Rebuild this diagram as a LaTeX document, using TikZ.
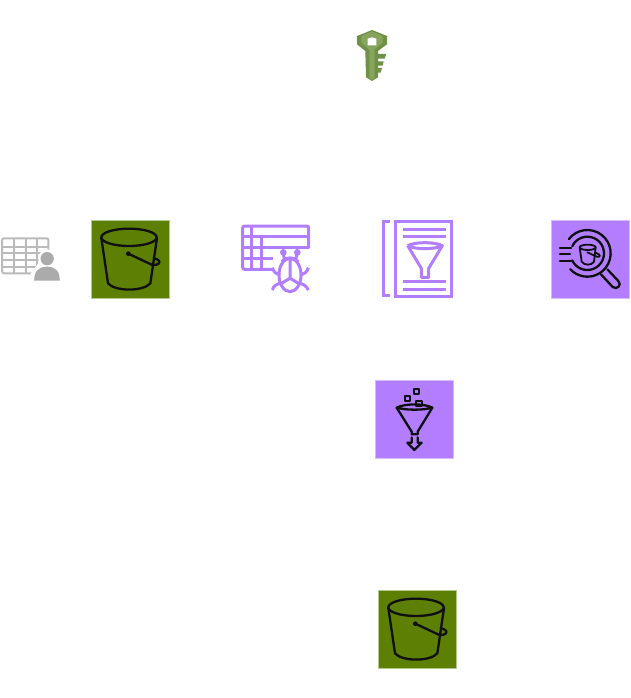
\documentclass[tikz,border=0pt]{standalone}
\usepackage{tikz}
\usetikzlibrary{positioning}

\definecolor{s3green}{HTML}{5C7F04}
\definecolor{s3edge}{HTML}{B3C88E}
\definecolor{labpurple}{HTML}{B27DFF}
\definecolor{labedge}{HTML}{D6BBFF}
\definecolor{inkblack}{HTML}{101010}
\definecolor{usergrey}{HTML}{ABABAB}
\definecolor{gridgrey}{HTML}{BABABA}
\definecolor{keygreen}{HTML}{6F9145}
\definecolor{keylight}{HTML}{86A45C}

\tikzset{
    tile/.style={minimum size=78pt, inner sep=0pt, outer sep=0pt, line width=0.8pt},
    s3tile/.style={tile, fill=s3green, draw=s3edge},
    labtile/.style={tile, fill=labpurple, draw=labedge},
    iconspot/.style={minimum size=60pt, inner sep=0pt, outer sep=0pt},
    ink/.style={draw=inkblack, line width=2.3pt, line join=round, line cap=round},
    lilac/.style={draw=labpurple, line width=3pt},
    s3bucket/.pic={
        \begin{scope}[scale=0.3333, shift={(-136.5,-133.5)}]
            \draw[ink] (132,67) ellipse [x radius=83, y radius=26];
            \draw[ink] (49,69) -- (69,205) .. controls (90,230) and (175,230) .. (196,205) -- (216,69);
            \fill[inkblack] (130,116) circle (7);
            \draw[ink] (130,116) -- (200,149) .. controls (222,153) and (230,140) .. (218,134) .. controls (214,131) and (210,130) .. (206,129);
        \end{scope}
    },
    searchglass/.pic={
        \begin{scope}[scale=0.3333, shift={(-135,-133.5)}]
            \draw[ink] (127,115) ++(218:70) arc [start angle=218, end angle=497, radius=70];
            \draw[ink] (127,115) ++(205:50) arc [start angle=205, end angle=515, radius=50];
            \draw[ink] (45,100) -- (78,100) (45,118) -- (75,118) (45,138) -- (78,138);
            \draw[ink] (168,178) -- (203,216) .. controls (215,226) and (232,210) .. (220,198) -- (187,163);
            \draw[ink, line width=1.8pt] (128,97) ellipse [x radius=24, y radius=8];
            \draw[ink, line width=1.8pt] (104,97) -- (110,140) .. controls (118,152) and (140,152) .. (147,140) -- (152,97);
            \draw[ink, line width=1.8pt] (127,112) -- (155,125) .. controls (168,128) and (168,118) .. (153,114);
        \end{scope}
    },
    funnelcubes/.pic={
        \begin{scope}[scale=0.3333, shift={(-133.5,-133.5)}]
            \draw[ink] (80,98) .. controls (105,85) and (162,85) .. (187,98) .. controls (162,106) and (105,106) .. (80,98);
            \draw[ink] (80,98) -- (125,170) -- (125,178) -- (143,178) -- (143,170) -- (187,98);
            \draw[ink] (125,187) -- (125,203) -- (112,203) -- (133,225) -- (155,203) -- (143,203) -- (143,187);
            \draw[ink] (105,63) rectangle (121,79);
            \draw[ink] (132,41) rectangle (148,57);
            \draw[ink] (139,77) rectangle (155,93);
        \end{scope}
    },
    gluecatalog/.pic={
        \begin{scope}[scale=0.3333, shift={(-127.5,-133.5)}]
            \draw[lilac] (46,18) -- (26,18) -- (26,242) -- (46,242);
            \draw[lilac] (62,20) rectangle (230,244);
            \draw[lilac] (85,42) -- (213,42) (85,63) -- (213,63) (85,200) -- (213,200) (85,225) -- (213,225);
            \draw[lilac, line join=round] (98,92) .. controls (120,80) and (180,80) .. (202,92) .. controls (180,104) and (120,104) .. (98,92);
            \draw[lilac, line join=round] (98,92) -- (139,160) -- (139,187) -- (161,187) -- (161,160) -- (202,92);
        \end{scope}
    },
    bugtable/.pic={
        \begin{scope}[scale=0.3333, shift={(-123,-132)}]
            \draw[lilac, rounded corners=2pt] (115,163) -- (23,163) -- (23,33) -- (221,33) -- (221,100);
            \draw[lilac] (23,65) -- (221,65) (23,97) -- (221,97) (23,130) -- (115,130);
            \draw[lilac] (50,33) -- (50,163) (80,65) -- (80,163);
            \fill[white] (165,180) ellipse [x radius=54, y radius=72];
            \draw[lilac] (165,180) ellipse [x radius=33, y radius=50];
            \draw[lilac] (165,135) -- (165,190) .. controls (150,198) and (142,204) .. (136,208) (165,190) .. controls (180,198) and (188,204) .. (194,208);
            \draw[lilac] (140,140) .. controls (150,125) and (180,125) .. (190,140);
            \draw[lilac] (148,132) -- (145,116) (182,132) -- (187,116);
            \fill[labpurple] (145,112) circle (10) (187,112) circle (10);
            \draw[lilac] (112,158) .. controls (116,172) and (125,178) .. (134,180);
            \draw[lilac] (197,180) .. controls (207,178) and (216,172) .. (220,158);
            \draw[lilac] (112,225) .. controls (116,212) and (125,207) .. (137,205);
            \draw[lilac] (193,205) .. controls (205,207) and (214,212) .. (220,225);
        \end{scope}
    },
    tableuser/.pic={
        \begin{scope}[scale=0.3333, shift={(-92,-133.5)}]
            \draw[draw=gridgrey, line width=2pt, rounded corners=2pt] (7,70) rectangle (146,175);
            \draw[draw=gridgrey, line width=2pt] (7,95) -- (146,95) (7,115) -- (146,115) (7,135) -- (146,135) (7,155) -- (146,155);
            \draw[draw=gridgrey, line width=2pt] (41,70) -- (41,175) (77,70) -- (77,175) (112,70) -- (112,175);
            \fill[white] (142,130) circle (27) (93,205) -- (93,175) -- (115,145) -- (170,145) -- (190,175) -- (190,205) -- cycle;
            \fill[usergrey] (142,131) circle (20);
            \fill[usergrey] (103,197) .. controls (103,170) and (115,155) .. (142,155) .. controls (168,155) and (180,170) .. (180,197) -- cycle;
        \end{scope}
    },
    kmskey/.pic={
        \begin{scope}[scale=0.3333, shift={(-96,-108)}]
            \fill[keygreen] (96,30) -- (141,48) -- (141,73) -- (114,93) -- (114,102) -- (139,102) -- (134,116) -- (114,116) -- (114,124) -- (131,124) -- (128,137) -- (114,137) -- (114,144) -- (126,144) -- (122,158) -- (114,158) -- (114,172) -- (96,183) -- (78,172) -- (76,93) -- (51,73) -- (51,48) -- cycle;
            \fill[keylight] (96,34) -- (128,48) -- (128,68) -- (104,88) -- (104,176) -- (96,180) -- (88,174) -- (88,90) -- (64,68) -- (64,48) -- cycle;
            \fill[white] (83,56) -- (96,52) -- (109,56) -- (109,76) -- (83,76) -- cycle;
        \end{scope}
    }
}

\begin{document}
\begin{tikzpicture}[x=1pt, y=-1pt]
    \useasboundingbox (0,0) rectangle (630,698);

    \node[s3tile] (rawbucket) at (130.5,259.5) {};
    \node[labtile, right=381.5pt of rawbucket] (macie) {};
    \node[s3tile] (cleanbucket) at (417.5,629.5) {};
    \node[labtile, above left=132pt and -75pt of cleanbucket] (glue) {};
    \node[iconspot] (catalog) at (417.5,259.5) {};
    \node[iconspot] (quality) at (276,259) {};
    \node[iconspot] (analyst) at (30.5,259.5) {};
    \node[iconspot] (key) at (372,56) {};

    \pic at (rawbucket) {s3bucket};
    \pic at (cleanbucket) {s3bucket};
    \pic at (macie) {searchglass};
    \pic at (glue) {funnelcubes};
    \pic at (catalog) {gluecatalog};
    \pic at (quality) {bugtable};
    \pic at (analyst) {tableuser};
    \pic at (key) {kmskey};
\end{tikzpicture}
\end{document}
